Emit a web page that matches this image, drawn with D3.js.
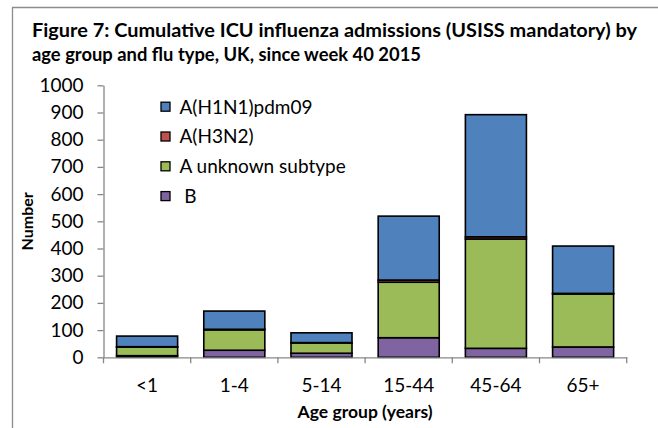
<!DOCTYPE html>
<html>
<head>
<meta charset="utf-8">
<script src="https://cdn.jsdelivr.net/npm/d3@7"></script>
<style>
  body { margin: 0; background: #fff; }
  svg { display: block; }
  text { font-family: Lato, "Open Sans", sans-serif; fill: #000; }
</style>
</head>
<body>
<svg id="canvas" width="658" height="428"></svg>
<script>
// age groups and cumulative ICU admissions per flu type
let categories = ["<1", "1-4", "5-14", "15-44", "45-64", "65+"]
let bValues = [6, 26, 15, 72, 33, 38]
let aUnknownValues = [32, 75, 38, 204, 402, 195]
let h3n2Values = [1, 2, 1, 8, 8, 2]
let h1n1Values = [39, 67, 36, 235, 449, 174]

let seriesNames = ["B", "A unknown subtype", "A(H3N2)", "A(H1N1)pdm09"]
let seriesColors = ["#8064A2", "#9BBB59", "#C0504D", "#4F81BD"]
let legendLabels = ["A(H1N1)pdm09", "A(H3N2)", "A unknown subtype", " B"]
let yTicks = [0, 100, 200, 300, 400, 500, 600, 700, 800, 900, 1000]

let canvas = d3.select("#canvas")
let axisColor = "#878787"
let labelSize = "19px"

// frame (only top and left edges show in the crop)
canvas.append("path")
  .attr("d", "M12.5,428 V7.5 H658")
  .attr("fill", "none")
  .attr("stroke", "#8c8c8c")
  .attr("stroke-width", 1.3)

// title
let title = canvas.append("g")
title.append("text")
  .attr("x", 32).attr("y", 37)
  .attr("font-weight", "bold")
  .attr("font-size", "18px")
  .attr("textLength", 605)
  .attr("lengthAdjust", "spacingAndGlyphs")
  .text("Figure 7: Cumulative ICU influenza admissions (USISS mandatory) by")
title.append("text")
  .attr("x", 32).attr("y", 61)
  .attr("font-weight", "bold")
  .attr("font-size", "18px")
  .attr("textLength", 389)
  .attr("lengthAdjust", "spacingAndGlyphs")
  .text("age group and flu type, UK, since week 40 2015")

let x = d3.scaleBand()
  .domain(categories)
  .range([103.5, 626.7])
  .paddingInner(0.3)
  .paddingOuter(0.15)

let y = d3.scaleLinear()
  .domain([0, 1000])
  .range([357.3, 85.3])

// stack bottom to top: B, A unknown, H3N2, H1N1
let table = categories.map((c, i) => ({
  age: c,
  "B": bValues[i],
  "A unknown subtype": aUnknownValues[i],
  "A(H3N2)": h3n2Values[i],
  "A(H1N1)pdm09": h1n1Values[i]
}))
let stacked = d3.stack().keys(seriesNames)(table)

canvas.append("g")
  .selectAll("g")
  .data(stacked)
  .enter()
  .append("g")
  .attr("fill", (d, i) => seriesColors[i])
  .selectAll("rect")
  .data(d => d)
  .enter()
  .append("rect")
  .attr("x", d => x(d.data.age))
  .attr("width", x.bandwidth())
  .attr("y", d => y(d[1]))
  .attr("height", d => y(d[0]) - y(d[1]))
  .attr("stroke", "#000")
  .attr("stroke-width", 1.6)

// y axis
let yAxis = canvas.append("g")
  .attr("transform", "translate(103.5,0)")
  .call(d3.axisLeft(y).tickValues(yTicks).tickFormat(d3.format("d"))
    .tickSize(6).tickSizeOuter(0).tickPadding(14))
yAxis.select(".domain").attr("stroke", axisColor).attr("stroke-width", 1.3)
yAxis.selectAll(".tick line").attr("stroke", axisColor).attr("stroke-width", 1.3)
yAxis.selectAll(".tick text")
  .attr("font-size", labelSize)
  .attr("font-family", "Lato, sans-serif")
  .attr("fill", "#000")

// x axis: labels under bars, ticks at the group boundaries
let xAxis = canvas.append("g")
  .attr("transform", "translate(0,357.3)")
  .call(d3.axisBottom(x).tickSize(0).tickPadding(21))
xAxis.select(".domain").attr("stroke", axisColor).attr("stroke-width", 1.3)
xAxis.selectAll(".tick text")
  .attr("font-size", labelSize)
  .attr("font-family", "Lato, sans-serif")
  .attr("fill", "#000")
let boundaries = d3.range(categories.length + 1).map(i => x.range()[0] + i * x.step())
xAxis.selectAll(".bound")
  .data(boundaries)
  .enter()
  .append("line")
  .attr("class", "bound")
  .attr("x1", d => d).attr("x2", d => d)
  .attr("y1", 0).attr("y2", 6)
  .attr("stroke", axisColor)
  .attr("stroke-width", 1.3)

// axis titles
canvas.append("text")
  .attr("transform", "translate(33," + ((y(0) + y(1000)) / 2) + ") rotate(-90)")
  .attr("text-anchor", "middle")
  .attr("font-weight", "bold")
  .attr("font-size", "16px")
  .text("Number")

canvas.append("text")
  .attr("x", (x.range()[0] + x.range()[1]) / 2)
  .attr("y", 418)
  .attr("text-anchor", "middle")
  .attr("font-weight", "bold")
  .attr("font-size", "17.5px")
  .text("Age group (years)")

// legend
let legend = canvas.append("g")
  .selectAll("g")
  .data(legendLabels)
  .enter()
  .append("g")
  .attr("transform", (d, i) => "translate(161," + (106.7 + i * 29.8) + ")")
legend.append("rect")
  .attr("x", 0).attr("y", -4.5)
  .attr("width", 9).attr("height", 9)
  .attr("fill", (d, i) => seriesColors[3 - i])
  .attr("stroke", "#000")
  .attr("stroke-width", 1.3)
legend.append("text")
  .attr("x", 18.5).attr("y", 6.8)
  .attr("font-size", labelSize)
  .attr("xml:space", "preserve")
  .style("white-space", "pre")
  .text(d => d)
</script>
</body>
</html>
